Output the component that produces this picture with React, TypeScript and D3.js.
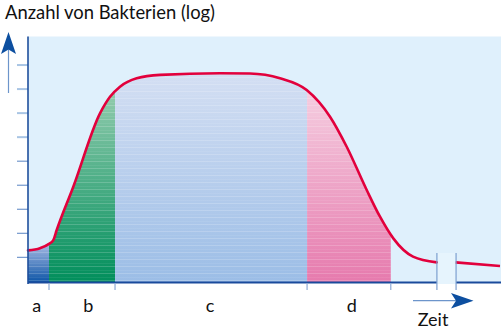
import React from "react";
import * as d3 from "d3";

// ---- data (time in arbitrary units, bacteria count in log units) ----
const time = [0, 2.54, 4.44, 5.35, 6.07, 9.58, 15.22, 17.34, 19.45, 22.98, 27.91, 40.59, 46.93, 53.28, 58.92, 63.85, 67.38, 71.61, 74.42, 77.23, 81.4, 86.41];
const logCount = [1.29, 1.38, 1.56, 1.72, 2.14, 3.94, 6.99, 7.68, 8.1, 8.45, 8.59, 8.66, 8.65, 8.45, 7.96, 6.85, 5.6, 3.8, 2.69, 1.79, 1.03, 0.79];
const timeAfterBreak = [90.42, 99.79];
const logAfterBreak = [0.79, 0.64];
const phaseLabels = ["a", "b", "c", "d"];
const phaseBounds = [0, 4.44, 18.4, 59, 76.7];
const labelTime = [1.84, 12.75, 38.48, 68.44];
const yTicks = [1, 2, 3, 4, 5, 6, 7, 8, 9];
const breakStart = 86.45;
const breakEnd = 90.5;
const title = "Anzahl von Bakterien (log)";
const xTitle = "Zeit";

const phaseGradients = [
  { y1: 245, y2: 283, c1: "#a3b8e2", c2: "#0a53a5" },
  { y1: 95, y2: 283, c1: "#8fcaac", c2: "#008e5b" },
  { y1: 72, y2: 283, c1: "#d4dff3", c2: "#9bbde6" },
  { y1: 88, y2: 283, c1: "#f5cfe1", c2: "#e67aad" },
];

const W = 501;
const H = 336;
const left = 28;
const right = 501;
const top = 36.5;
const bottom = 283;

export default function App() {
  const x = d3.scaleLinear().domain([0, 100]).range([left, right]);
  const y = d3.scaleLinear().domain([0, 10]).range([281.4, 41]);

  const pts: [number, number][] = time.map((t, i) => [t, logCount[i]]);
  const pts2: [number, number][] = timeAfterBreak.map((t, i) => [t, logAfterBreak[i]]);

  const line = d3
    .line<[number, number]>()
    .x((d) => x(d[0]))
    .y((d) => y(d[1]))
    .curve(d3.curveMonotoneX);
  const area = d3
    .area<[number, number]>()
    .x((d) => x(d[0]))
    .y0(bottom)
    .y1((d) => y(d[1]))
    .curve(d3.curveMonotoneX);

  const font = "Lato, 'Open Sans', sans-serif";

  return (
    <svg width={W} height={H} style={{ position: "absolute", left: 0, top: 0 }}>
      <defs>
        {phaseGradients.map((g, i) => (
          <linearGradient key={i} id={`g${i}`} gradientUnits="userSpaceOnUse" x1={0} x2={0} y1={g.y1} y2={g.y2}>
            <stop offset="0" stopColor={g.c1} />
            <stop offset="1" stopColor={g.c2} />
          </linearGradient>
        ))}
        <clipPath id="underCurve">
          <path d={area(pts) || ""} />
        </clipPath>
        <pattern id="stripes" patternUnits="userSpaceOnUse" width={10} height={7}>
          <rect x={0} y={0} width={10} height={1} fill="#ffffff" opacity={0.18} />
          <rect x={0} y={4} width={10} height={0.6} fill="#ffffff" opacity={0.1} />
        </pattern>
      </defs>

      <text x={5} y={18.5} fontFamily={font} fontSize={18.4} fill="#111">
        {title}
      </text>

      {/* plot background */}
      <rect x={left} y={top} width={right - left} height={bottom - top} fill="#dff0fc" />

      {/* phase fills */}
      <g clipPath="url(#underCurve)">
        {phaseLabels.map((p, i) => (
          <rect
            key={p}
            x={x(phaseBounds[i])}
            y={top}
            width={x(phaseBounds[i + 1]) - x(phaseBounds[i])}
            height={bottom - top}
            fill={`url(#g${i})`}
          />
        ))}
        <rect x={left} y={top} width={x(phaseBounds[4]) - left} height={bottom - top} fill="url(#stripes)" />
      </g>

      {/* break column */}
      <rect x={x(breakStart)} y={253} width={x(breakEnd) - x(breakStart)} height={31} fill="#e6f4fd" />

      {/* curve */}
      <path d={line(pts) || ""} fill="none" stroke="#e2003c" strokeWidth={2.6} strokeLinecap="round" />
      <path d={line(pts2) || ""} fill="none" stroke="#e2003c" strokeWidth={2.6} />

      {/* y ticks */}
      {yTicks.map((t) => (
        <line
          key={t}
          x1={17}
          x2={left}
          y1={y(t)}
          y2={y(t)}
          stroke={t >= 6 ? "#a9c5e4" : "#7398cc"}
          strokeWidth={t >= 6 ? 2 : 1.2}
        />
      ))}

      {/* axes */}
      <line x1={left} x2={left} y1={top} y2={bottom + 1} stroke="#1f4f9c" strokeWidth={1.6} />
      <line x1={left} x2={x(breakStart)} y1={282.6} y2={282.6} stroke="#1a4b9c" strokeWidth={2} />
      <line x1={x(breakEnd)} x2={right} y1={282.6} y2={282.6} stroke="#1a4b9c" strokeWidth={2} />

      {/* x ticks at phase boundaries */}
      {phaseBounds.slice(1).map((b, i) => (
        <line key={i} x1={x(b)} x2={x(b)} y1={283} y2={290} stroke="#8eaad6" strokeWidth={1.2} />
      ))}

      {/* break marks */}
      {[breakStart, breakEnd].map((b, i) => (
        <line key={i} x1={x(b)} x2={x(b)} y1={253} y2={290} stroke="#7c9fd0" strokeWidth={1.2} />
      ))}

      {/* phase labels */}
      {phaseLabels.map((p, i) => (
        <text key={p} x={x(labelTime[i])} y={311.5} textAnchor="middle" fontFamily={font} fontSize={18} fill="#111">
          {p}
        </text>
      ))}

      {/* y arrow */}
      <line x1={8.5} x2={8.5} y1={48} y2={93} stroke="#6d95cb" strokeWidth={1.2} />
      <path d="M8.5,32 L16,54 L8.5,49.5 L1,54 Z" fill="#0d4fa0" />

      {/* x arrow */}
      <line x1={413} x2={460} y1={300.7} y2={300.7} stroke="#6d95cb" strokeWidth={1.2} />
      <path d="M473.5,300.7 L451,293 L456,300.7 L451,308.4 Z" fill="#0d4fa0" />
      <text x={433} y={325.5} textAnchor="middle" fontFamily={font} fontSize={18} fill="#111">
        {xTitle}
      </text>
    </svg>
  );
}
